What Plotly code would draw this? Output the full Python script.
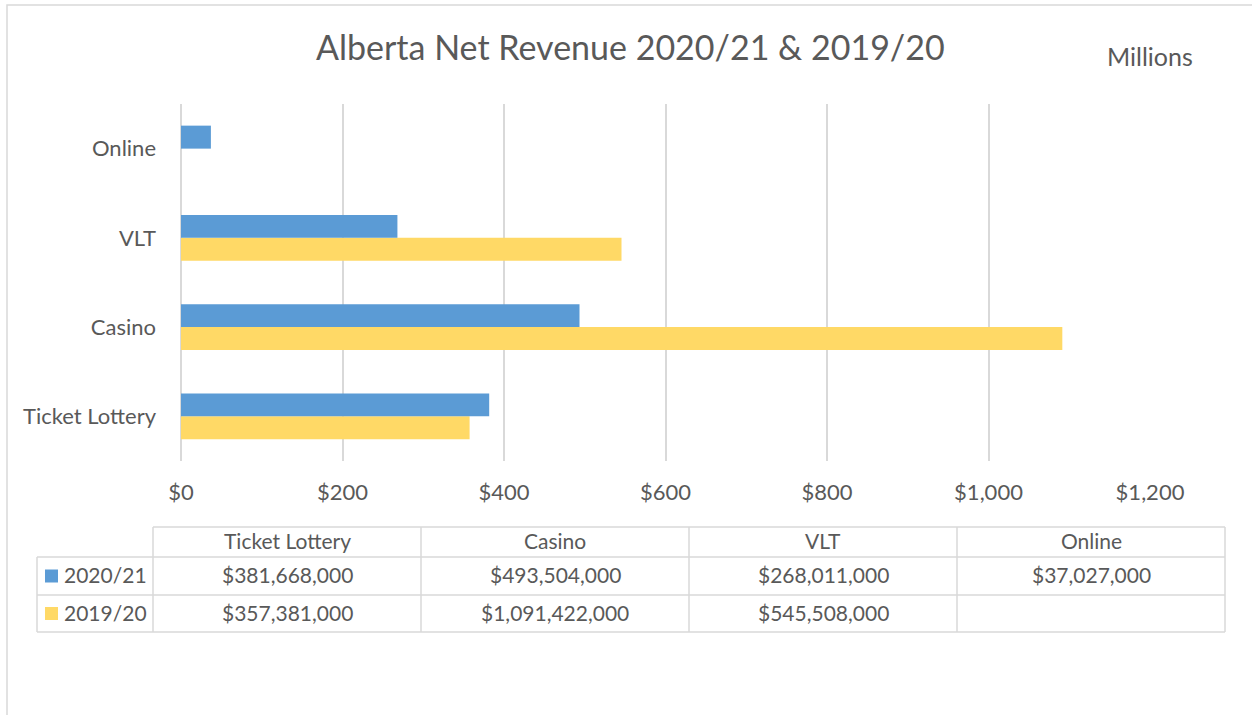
import plotly.graph_objects as go

# ---- data ----
categories = ["Ticket Lottery", "Casino", "VLT", "Online"]
series_names = ["2020/21", "2019/20"]
rev_2021 = [381668000, 493504000, 268011000, 37027000]
rev_1920 = [357381000, 1091422000, 545508000, None]
x_ticks = [0, 200, 400, 600, 800, 1000, 1200]
x_tick_labels = ["$0", "$200", "$400", "$600", "$800", "$1,000", "$1,200"]
title_text = "Alberta Net Revenue 2020/21 & 2019/20"
unit_text = "Millions"

BLUE = "#5B9BD5"
YELLOW = "#FFD966"
GRID = "#D9D9D9"
TEXT = "#595959"
FONT = "Lato"
TS = 22   # axis text size
TT = 21   # table text size

W, H = 1252, 715
def X(px): return px / W
def Y(py): return 1 - py / H

def millions(v):
    return None if v is None else v / 1e6

def money(v):
    return "" if v is None else "${:,.0f}".format(v)

fig = go.Figure()
# yellow first so blue sits above within each category
fig.add_trace(go.Bar(y=categories, x=[millions(v) for v in rev_1920], orientation="h",
                     name=series_names[1], marker=dict(color=YELLOW, line=dict(width=0))))
fig.add_trace(go.Bar(y=categories, x=[millions(v) for v in rev_2021], orientation="h",
                     name=series_names[0], marker=dict(color=BLUE, line=dict(width=0))))

fig.update_layout(
    width=W, height=H, autosize=False, margin=dict(l=0, r=0, t=0, b=0, pad=0),
    paper_bgcolor="white", plot_bgcolor="white",
    barmode="group", bargap=0.485, bargroupgap=0,
    showlegend=False,
    font=dict(family=FONT, color=TEXT, size=TS),
    xaxis=dict(domain=[X(181), X(1150)], range=[0, 1200], tickvals=x_ticks, ticktext=x_tick_labels,
               automargin=False,
               showgrid=True, gridcolor=GRID, gridwidth=1.5,
               zeroline=True, zerolinecolor=GRID, zerolinewidth=1.5, showline=False,
               ticks="", ticklabelstandoff=16, tickfont=dict(size=TS, color=TEXT)),
    yaxis=dict(domain=[Y(461), Y(104)], automargin=False, showgrid=False, zeroline=False, showline=False,
               ticks="", ticklabelstandoff=24, tickfont=dict(size=TS, color=TEXT),
               categoryorder="array", categoryarray=categories),
)

shapes = []
# outer frame
shapes.append(dict(type="rect", xref="paper", yref="paper", x0=X(7), x1=X(1262), y0=Y(725), y1=Y(5),
                   line=dict(color=GRID, width=1.5), fillcolor="rgba(0,0,0,0)", layer="below"))

# data table
col_edges = [153, 421, 689, 957, 1225]
row_edges = [527, 557, 595, 632]
left_edge = 37
def hline(py, xa, xb):
    shapes.append(dict(type="line", xref="paper", yref="paper", x0=X(xa), x1=X(xb), y0=Y(py), y1=Y(py),
                       line=dict(color=GRID, width=1.5)))
def vline(px, ya, yb):
    shapes.append(dict(type="line", xref="paper", yref="paper", x0=X(px), x1=X(px), y0=Y(ya), y1=Y(yb),
                       line=dict(color=GRID, width=1.5)))
hline(row_edges[0], col_edges[0], col_edges[-1])
for r in row_edges[1:]:
    hline(r, left_edge, col_edges[-1])
vline(left_edge, row_edges[1], row_edges[-1])
for c in col_edges:
    vline(c, row_edges[0], row_edges[-1])

annotations = []
annotations.append(dict(text=title_text, x=X(630), y=Y(46.5), xref="paper", yref="paper",
                        showarrow=False, font=dict(size=34, color=TEXT), xanchor="center", yanchor="middle"))
annotations.append(dict(text=unit_text, x=X(1150), y=Y(56), xref="paper", yref="paper",
                        showarrow=False, font=dict(size=25, color=TEXT), xanchor="center", yanchor="middle"))

centers = [(col_edges[i] + col_edges[i + 1]) / 2 for i in range(len(categories))]
row_mid = [(row_edges[i] + row_edges[i + 1]) / 2 for i in range(3)]
for i, cat in enumerate(categories):
    annotations.append(dict(text=cat, x=X(centers[i]), y=Y(row_mid[0] - 1.5), xref="paper", yref="paper",
                            showarrow=False, font=dict(size=TT, color=TEXT), xanchor="center", yanchor="middle"))
for r, (vals, name, col) in enumerate([(rev_2021, series_names[0], BLUE), (rev_1920, series_names[1], YELLOW)]):
    ym = row_mid[r + 1]
    for i, v in enumerate(vals):
        annotations.append(dict(text=money(v), x=X(centers[i]), y=Y(ym - 1.5), xref="paper", yref="paper",
                                showarrow=False, font=dict(size=TT, color=TEXT), xanchor="center", yanchor="middle"))
    shapes.append(dict(type="rect", xref="paper", yref="paper", x0=X(45), x1=X(58), y0=Y(ym + 6.5), y1=Y(ym - 6.5),
                       line=dict(width=0), fillcolor=col))
    annotations.append(dict(text=name, x=X(62), y=Y(ym - 1.5), xref="paper", yref="paper",
                            showarrow=False, font=dict(size=TT, color=TEXT), xanchor="left", yanchor="middle"))

fig.update_layout(shapes=shapes, annotations=annotations)
fig.write_html("out.html", config={"displayModeBar": False},
               post_script="document.body.style.margin='0';document.body.style.overflow='hidden';")
